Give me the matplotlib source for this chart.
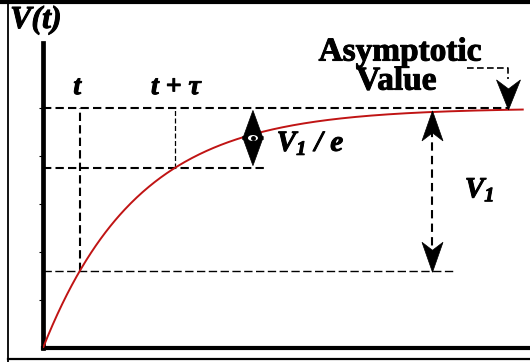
import numpy as np
import matplotlib
matplotlib.use("Agg")
import matplotlib.pyplot as plt
import matplotlib.patheffects as pe
from matplotlib.patches import Polygon, Ellipse
from matplotlib.lines import Line2D
from matplotlib.transforms import ScaledTranslation

plt.rcParams['mathtext.fontset'] = 'custom'
plt.rcParams['mathtext.it'] = 'Liberation Serif:italic:bold'
plt.rcParams['mathtext.rm'] = 'Liberation Serif:italic:bold'

# charging curve V(t) = V1 * (1 - exp(-t / tau))
V1 = 1.0
tau = 1.0
t_mark = 0.385
t_end = 5.05
y_ticks = [0.2, 0.4, 0.6, 0.8, 1.0]

# where the annotations sit (time units)
top_line_end = 4.9
mid_line_end = 2.34
low_line_end = 4.34
v1e_x = 2.21
v1_x = 4.1
asym_x0, asym_y = 4.46, 1.167

RED = '#c01414'
SERIF = 'Liberation Serif'
HEAVY = [pe.withStroke(linewidth=0.7, foreground='black')]


def V(t):
    return V1 * (1 - np.exp(-t / tau))


fig = plt.figure(figsize=(5.3, 3.62), dpi=100)
ax = fig.add_axes([43 / 530, 14 / 362, 487 / 530, 305 / 362])
ax.set_xlim(0, 487 / 95)
ax.set_ylim(0, 305 / 240)

for side in ['top', 'right']:
    ax.spines[side].set_visible(False)
ax.spines['left'].set_linewidth(3.4)
ax.spines['bottom'].set_linewidth(3.0)
ax.set_xticks([])
ax.set_yticks(y_ticks)
ax.set_yticklabels([])
ax.tick_params(axis='y', length=3, width=0.8, direction='out')

# curve
tt = np.linspace(0, t_end, 400)
ax.plot(tt, V(tt), color=RED, lw=1.4, zorder=3)

v_t = V(t_mark)
v_ttau = V(t_mark + tau)
dash = (0, (4, 2))
ax.plot([0, top_line_end], [V1, V1], color='black', lw=1.5, ls=dash, zorder=2)
ax.plot([0, mid_line_end], [v_ttau, v_ttau], color='black', lw=1.5, ls=dash)
ax.plot([0, low_line_end], [v_t, v_t], color='black', lw=1.0, ls=(0, (6, 2.5)))
ax.plot([t_mark, t_mark], [v_t, V1], color='black', lw=1.5, ls=dash)
ax.plot([t_mark + tau, t_mark + tau], [v_ttau, V1], color='black', lw=0.9, ls=dash)


def head(x, y, down=False, length=30, half=10.5, notch=8):
    # notched arrowhead, sized in pixels, tip at (x, y) in data units
    s = -1 if down else 1
    verts = np.array([(0, 0), (-half, -s * length), (0, -s * (length - notch)), (half, -s * length)]) / 100.0
    trans = fig.dpi_scale_trans + ScaledTranslation(x, y, ax.transData)
    ax.add_patch(Polygon(verts, closed=True, transform=trans, facecolor='black',
                         edgecolor='black', lw=0.5, zorder=5, clip_on=False))


# V1 double arrow
ax.plot([v1_x, v1_x], [v_t + 0.05, V1 - 0.05], color='black', lw=1.5, ls=(0, (4, 2.5)))
head(v1_x, V1 - 0.012, down=False)
head(v1_x, v_t - 0.004, down=True)

# V1/e diamond arrow
head(v1e_x, V1 - 0.01, down=False, length=29, half=10.5, notch=0)
head(v1e_x, v_ttau + 0.01, down=True, length=29, half=10.5, notch=0)
eye = Ellipse((0, 0), 0.1, 0.06, facecolor='white', edgecolor='none',
              transform=fig.dpi_scale_trans + ScaledTranslation(v1e_x, (V1 + v_ttau) / 2, ax.transData), zorder=6)
ax.add_patch(eye)
ax.plot([v1e_x], [(V1 + v_ttau) / 2], marker='o', ms=2.5, color='black', zorder=7)

# asymptotic value pointer
ax.plot([asym_x0, top_line_end, top_line_end], [asym_y, asym_y, 1.12],
        color='black', lw=1.2, ls=(0, (4, 2)), clip_on=False)
head(top_line_end, V1 - 0.008, down=True, length=30, half=12, notch=9)

# labels
ax.text(-0.075, 1.365, 'V(t)', family=SERIF, style='italic', weight='bold',
        fontsize=23, ha='center', va='center', path_effects=HEAVY)
ax.text(0.36, 1.085, 't', family=SERIF, style='italic', weight='bold',
        fontsize=20, ha='center', va='center', path_effects=HEAVY)
ax.text(1.4, 1.085, 't + τ', family=SERIF, style='italic', weight='bold',
        fontsize=20, ha='center', va='center', path_effects=HEAVY)
ax.text(3.76, 1.233, 'Asymptotic', family=SERIF, weight='bold',
        fontsize=24, ha='center', va='center', path_effects=HEAVY)
ax.text(3.72, 1.112, 'Value', family=SERIF, weight='bold',
        fontsize=24, ha='center', va='center', path_effects=HEAVY)
ax.text(2.46, 0.854, r'$V_{1}\ /\ e$', fontsize=21, ha='left', va='center', path_effects=HEAVY)
ax.text(4.44, 0.66, r'$V_{1}$', fontsize=21, ha='left', va='center', path_effects=HEAVY)

# outer frame
fig.add_artist(Line2D([0, 1], [1 - 1.5 / 362, 1 - 1.5 / 362], color='black', lw=3.0))
fig.add_artist(Line2D([7.5 / 530, 7.5 / 530], [0, 1], color='black', lw=1.3))
fig.add_artist(Line2D([7.5 / 530, 1], [3 / 362, 3 / 362], color='black', lw=1.6))

fig.savefig('out.png', dpi=100)
